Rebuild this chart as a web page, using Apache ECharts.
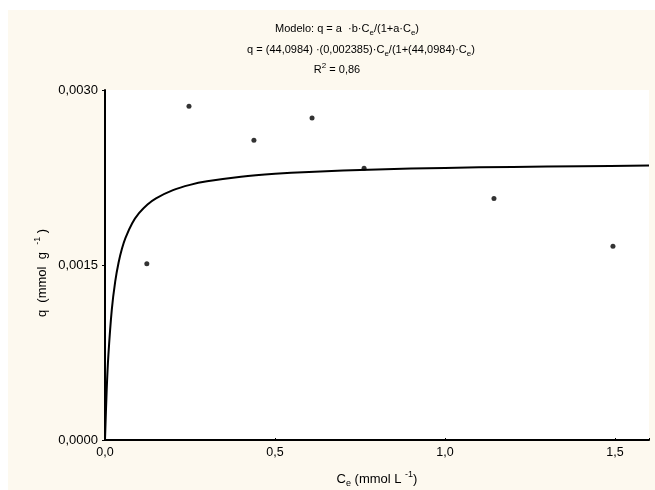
<!DOCTYPE html>
<html><head><meta charset="utf-8">
<script src="https://cdn.jsdelivr.net/npm/echarts@6/dist/echarts.min.js"></script>
<style>html,body{margin:0;padding:0;background:#fff}#c{width:655px;height:490px}</style>
</head><body><div id="c"></div>
<script>
// Observed data points (Ce, q)
var obsCe = [0.123, 0.247, 0.438, 0.609, 0.762, 1.144, 1.494];
var obsQ  = [0.00151, 0.00286, 0.00257, 0.00276, 0.00233, 0.00207, 0.00166];
// Fitted curve (Ce, q)
var fitCe = [0, 0.005, 0.01, 0.02, 0.03, 0.04, 0.05, 0.06, 0.08, 0.10, 0.125, 0.15, 0.2, 0.25, 0.3, 0.4, 0.5, 0.6, 0.8, 1.0, 1.2, 1.4, 1.6];
var fitQ  = [0, 0.000431, 0.000730, 0.001118, 0.001358, 0.001522, 0.001641, 0.001731, 0.001858, 0.001944, 0.002019, 0.002072, 0.002142, 0.002187, 0.002217, 0.002257, 0.002282, 0.002298, 0.002319, 0.002332, 0.002341, 0.002347, 0.002352];
var xTicks = ['0,0', '0,5', '1,0', '1,5'];
var yTicks = ['0,0000', '0,0015', '0,0030'];

var FONT = 'Liberation Sans, Arial, sans-serif';
var rich = {
  n: {fontFamily: FONT, fontSize: 11, color: '#000', lineHeight: 16},
  sub: {fontFamily: FONT, fontSize: 8, color: '#000', lineHeight: 16, verticalAlign: 'bottom', padding: [6, 0, 0, 0]},
  sup: {fontFamily: FONT, fontSize: 8, color: '#000', lineHeight: 16, verticalAlign: 'top', padding: [0, 0, 5, 0]}
};
var richAx = {
  n: {fontFamily: FONT, fontSize: 13, color: '#000', lineHeight: 18},
  sub: {fontFamily: FONT, fontSize: 9, color: '#000', lineHeight: 18, verticalAlign: 'bottom', padding: [7, 0, 0, 0]},
  sup: {fontFamily: FONT, fontSize: 9, color: '#000', lineHeight: 18, verticalAlign: 'top', padding: [0, 0, 6, 0]}
};

var chart = echarts.init(document.getElementById('c'), null, {renderer: 'canvas'});
function zip(a, b) { return a.map(function (v, i) { return [v, b[i]]; }); }

chart.setOption({
  backgroundColor: '#ffffff',
  animation: false,
  graphic: [
    {type: 'rect', z: -10, shape: {x: 8, y: 10, width: 647, height: 480}, style: {fill: '#FDF9EF'}},
    {type: 'text', x: 347, y: 29, style: {text: '{n|Modelo: q = a  ·b·C}{sub|e}{n|/(1+a·C}{sub|e}{n|)}', rich: rich, align: 'center', verticalAlign: 'middle'}},
    {type: 'text', x: 361, y: 50, style: {text: '{n|q = (44,0984) ·(0,002385)·C}{sub|e}{n|/(1+(44,0984)·C}{sub|e}{n|)}', rich: rich, align: 'center', verticalAlign: 'middle'}},
    {type: 'text', x: 337, y: 70, style: {text: '{n|R}{sup|2}{n| = 0,86}', rich: rich, align: 'center', verticalAlign: 'middle'}},
    {type: 'text', x: 42, y: 273, rotation: Math.PI / 2, style: {text: '{n|q  (mmol  g  }{sup|-1}{n| )}', rich: richAx, align: 'center', verticalAlign: 'middle'}}
  ],
  grid: {left: 105, right: 6, top: 90, bottom: 50, show: true, backgroundColor: '#ffffff', borderWidth: 0, containLabel: false, outerBoundsMode: 'none'},
  xAxis: {
    type: 'value', min: 0, max: 1.6, interval: 0.5,
    name: '{n|C}{sub|e}{n| (mmol L }{sup|-1}{n|)}', nameLocation: 'middle', nameGap: 30,
    nameTextStyle: {rich: richAx},
    axisLine: {show: true, lineStyle: {color: '#000', width: 2}},
    axisTick: {show: true, inside: true, length: 2, lineStyle: {color: '#000'}},
    splitLine: {show: false},
    axisLabel: {color: '#000', fontFamily: FONT, fontSize: 12.5, margin: 6,
      formatter: function (v) { var i = Math.round(v / 0.5); return Math.abs(v - i * 0.5) < 1e-9 ? xTicks[i] : ''; }}
  },
  yAxis: {
    type: 'value', min: 0, max: 0.003, interval: 0.0015,
    axisLine: {show: true, lineStyle: {color: '#000', width: 2}},
    axisTick: {show: true, inside: false, length: 3, lineStyle: {color: '#000'}},
    splitLine: {show: false},
    axisLabel: {color: '#000', fontFamily: FONT, fontSize: 13, margin: 7,
      formatter: function (v) { var i = Math.round(v / 0.0015); return yTicks[i]; }}
  },
  series: [
    {type: 'line', data: zip(fitCe, fitQ), smooth: 0.3, showSymbol: false, symbol: 'none',
      lineStyle: {color: '#000', width: 2}, z: 2},
    {type: 'scatter', data: zip(obsCe, obsQ), symbol: 'circle', symbolSize: 5,
      itemStyle: {color: '#000'}, z: 3}
  ]
});
</script></body></html>
